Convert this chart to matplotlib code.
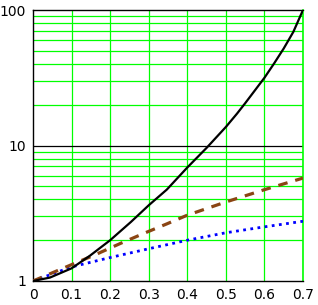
import numpy as np
import matplotlib.pyplot as plt
from matplotlib.ticker import FixedLocator, NullFormatter

# Values
x_black = [0.0, 0.044, 0.1, 0.148, 0.2, 0.254, 0.3, 0.347, 0.4, 0.45, 0.5, 0.529, 0.55,
           0.6, 0.625, 0.65, 0.675, 0.7]
y_black = [1.0, 1.06, 1.24, 1.54, 2.0, 2.73, 3.62, 4.73, 6.88, 9.6, 13.7, 17.2, 20.5,
           31.6, 40.3, 52.0, 69.0, 100.0]

x_brown = [0.0, 0.1, 0.163, 0.226, 0.288, 0.347, 0.4, 0.5, 0.6, 0.7]
y_brown = [1.0, 1.32, 1.57, 1.89, 2.25, 2.64, 3.06, 3.83, 4.72, 5.75]

x_blue = [0.0, 0.1, 0.2, 0.3, 0.4, 0.5, 0.6, 0.7]
y_blue = [1.0, 1.27, 1.49, 1.73, 2.0, 2.27, 2.51, 2.76]

x_ticks = [0, 0.1, 0.2, 0.3, 0.4, 0.5, 0.6, 0.7]
x_labels = ['0', '0.1', '0.2', '0.3', '0.4', '0.5', '0.6', '0.7']
y_ticks = [1, 10, 100]
y_labels = ['1', '10', '100']

plt.rcParams['font.family'] = ['Liberation Sans Narrow', 'DejaVu Sans']

fig = plt.figure(figsize=(3.18, 3.05), dpi=100)
ax = fig.add_axes([33 / 318, 1 - 281 / 305, 270 / 318, 271 / 305])

green = '#00ff00'
# grid lines
for xv in x_ticks[1:]:
    ax.axvline(xv, color=green, lw=0.9, zorder=1)
minor = [m * d for d in (1, 10) for m in range(2, 10)]
for yv in minor:
    ax.axhline(yv, color=green, lw=0.9, zorder=1)
ax.axhline(10, color='black', lw=0.9, zorder=1)

ax.plot(x_blue, y_blue, color='#0000ff', lw=2, linestyle=(0, (1, 1.6)), zorder=3)
ax.plot(x_brown, y_brown, color='#8b4513', lw=2.3, linestyle=(0, (3, 2.5)), zorder=3)
ax.plot(x_black, y_black, color='black', lw=1.6, zorder=4)

ax.set_yscale('log')
ax.set_xlim(0, 0.7)
ax.set_ylim(1, 100)
ax.set_xticks(x_ticks)
ax.set_xticklabels(x_labels)
ax.set_yticks(y_ticks)
ax.set_yticklabels(y_labels)
ax.yaxis.set_minor_locator(FixedLocator([]))
ax.yaxis.set_minor_formatter(NullFormatter())
ax.tick_params(length=0, labelsize=10, pad=5)

for s in ['left', 'bottom', 'top']:
    ax.spines[s].set_color('black')
    ax.spines[s].set_linewidth(1)
ax.spines['right'].set_color(green)
ax.spines['right'].set_linewidth(1.2)

fig.savefig('out.png', dpi=100)
